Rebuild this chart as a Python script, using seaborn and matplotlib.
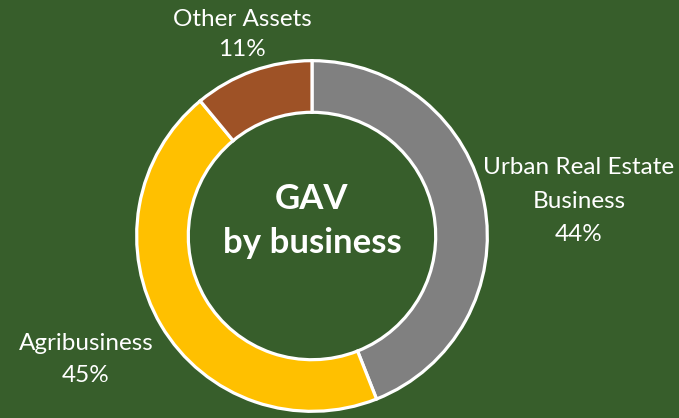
import matplotlib
matplotlib.use("Agg")
import matplotlib.pyplot as plt
import seaborn as sns

# GAV split by business line
segments = ["Urban Real Estate\nBusiness", "Agribusiness", "Other Assets"]
shares = [44, 45, 11]
colors = ["#808080", "#FFC000", "#9E5226"]

BG = "#375E2B"
W, H = 679, 418

sns.set_style("white")
plt.rcParams["font.family"] = ["Lato", "DejaVu Sans"]

fig = plt.figure(figsize=(W / 100, H / 100), dpi=100, facecolor=BG)

# donut centred at (312, 236) px with an outer radius of 178 px
cx, cy, r = 312, 236, 178
ax = fig.add_axes([(cx - r) / W, (H - cy - r) / H, 2 * r / W, 2 * r / H])
ax.set_facecolor(BG)

ax.pie(shares, colors=colors, startangle=90, counterclock=False,
       radius=0.985,
       wedgeprops=dict(width=0.29, edgecolor="white", linewidth=2.3))
ax.set_xlim(-1, 1)
ax.set_ylim(-1, 1)
ax.set_aspect("equal")
ax.axis("off")

# centre title
fig.text(cx / W, 1 - 199 / H, "GAV", ha="center", va="center",
         color="white", fontsize=25, fontweight="bold")
fig.text(cx / W, 1 - 243 / H, "by business", ha="center", va="center",
         color="white", fontsize=25, fontweight="bold")

# outer category labels
label_pos = {
    0: (579, [167, 201, 234]),
    1: (86, [343, 376]),
    2: (242, [19, 50]),
}
for i, (x, ys) in label_pos.items():
    lines = segments[i].split("\n") + [f"{shares[i]}%"]
    for line, y in zip(lines, ys):
        fig.text(x / W, 1 - y / H, line, ha="center", va="center",
                 color="white", fontsize=17.5)

fig.savefig("out.png", dpi=100, facecolor=BG)
